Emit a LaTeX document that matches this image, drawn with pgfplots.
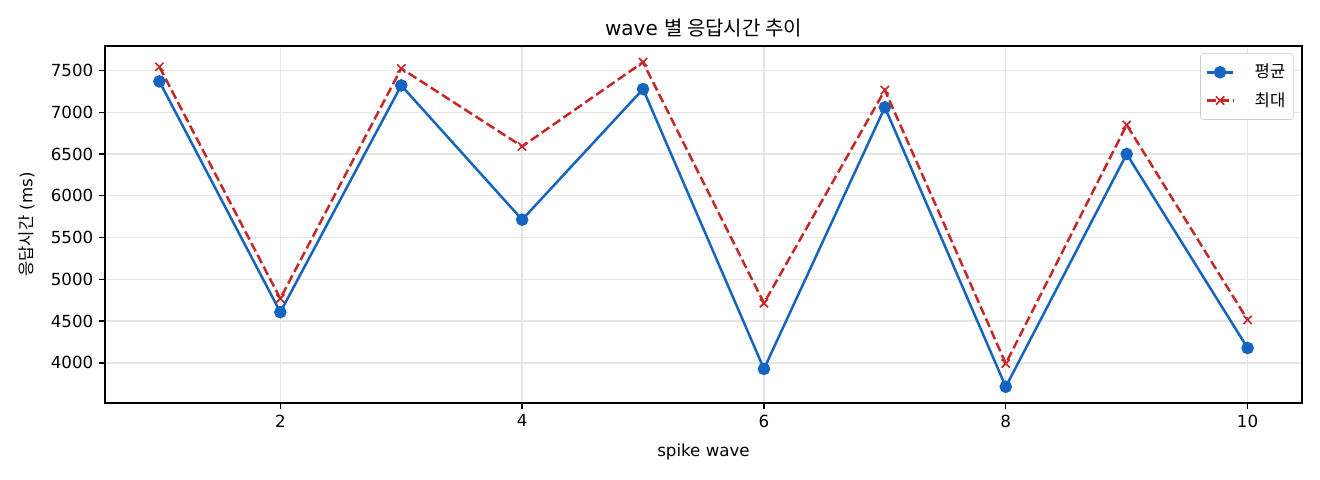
\documentclass[border=0pt]{standalone}
\usepackage{pgfplots}
\pgfplotsset{compat=1.18}
\usepackage{fontspec}
\setmainfont{DejaVu Sans}
\newfontfamily\kr{Noto Sans CJK KR}
\definecolor{avgblue}{HTML}{1565C0}
\definecolor{maxred}{HTML}{C62828}
\definecolor{gridgray}{HTML}{E6E6E6}
\begin{document}
\begin{tikzpicture}
% picture size: 1320x480 px at 0.6pt per px
\useasboundingbox (-63pt,-46.2pt) rectangle (729pt,241.8pt);
\begin{axis}[
    at={(0,0)}, anchor=south west,
    scale only axis,
    width=718.2pt, height=214.2pt,
    xmin=0.55, xmax=10.45,
    ymin=3520, ymax=7793,
    xtick={2,4,6,8,10},
    ytick={4000,4500,5000,5500,6000,6500,7000,7500},
    /pgf/number format/assume math mode=true,
    /pgf/number format/1000 sep={},
    tick pos=left,
    tick align=outside,
    major tick length=3.5pt,
    tick style={line width=0.8pt, black},
    axis line style={line width=0.8pt},
    tick label style={font=\fontsize{10}{12}\selectfont},
    xmajorgrids, ymajorgrids,
    grid style={gridgray, line width=0.8pt},
    every axis title/.style={at={(0.5,1)}, anchor=base, yshift=6pt,
        font=\fontsize{12}{14}\selectfont},
    title={wave {\kr 별 응답시간 추이}},
    every axis x label/.style={at={(axis description cs:0.5,0)}, anchor=base,
        yshift=-32.2pt, font=\fontsize{10}{12}\selectfont},
    xlabel={spike wave},
    every axis y label/.style={at={(axis description cs:0,0.5)}, anchor=center,
        xshift=-47pt, rotate=90, font=\fontsize{10}{12}\selectfont},
    ylabel={{\kr 응답시간} (ms)},
    legend style={
        at={(1,1)}, anchor=north east, xshift=-4.8pt, yshift=-4.2pt,
        draw=black!20, rounded corners=2pt, fill=white,
        font=\kr\fontsize{10}{12}\selectfont,
        row sep=3.2pt, inner xsep=3pt, inner ysep=4.5pt,
        /tikz/every odd column/.append style={column sep=10pt},
    },
    legend cell align=left,
    legend image code/.code={
        \draw[mark repeat=2, mark phase=2, #1]
            plot coordinates {(0pt,0pt) (8pt,0pt) (16pt,0pt)};
    },
]
\addplot[avgblue, line width=1.5pt, mark=*, mark size=3pt,
    mark options={solid, fill=avgblue}] coordinates {
    (1,7369) (2,4607) (3,7321) (4,5714) (5,7277)
    (6,3928) (7,7059) (8,3714) (9,6500) (10,4178)};
\addplot[maxred, line width=1.5pt, dash pattern=on 5.55pt off 2.4pt,
    mark=x, mark size=3.5pt, mark options={solid, line width=1pt}] coordinates {
    (1,7543) (2,4770) (3,7524) (4,6591) (5,7599)
    (6,4715) (7,7265) (8,3992) (9,6848) (10,4515)};
\legend{평균, 최대}
\end{axis}
\end{tikzpicture}
\end{document}
